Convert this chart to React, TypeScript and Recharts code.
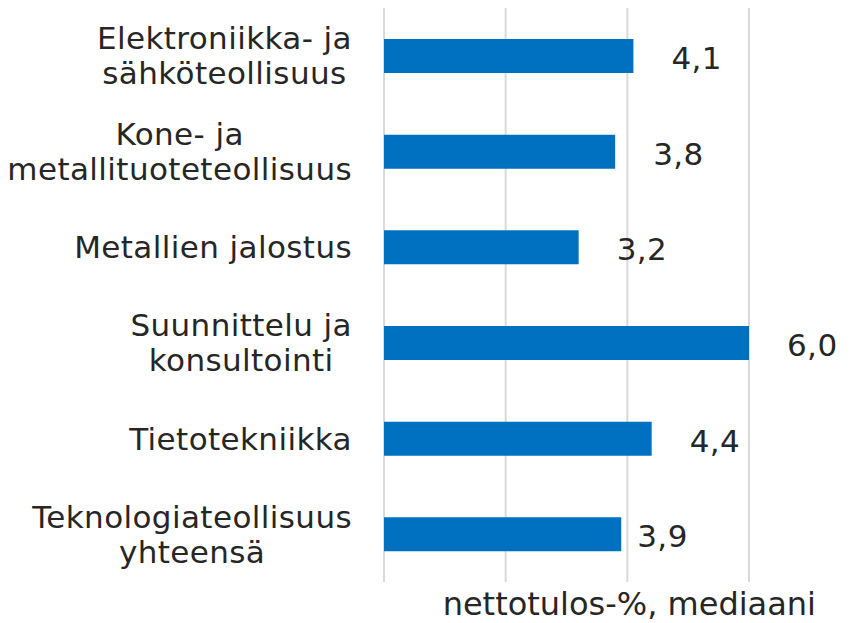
import React from 'react';
import {
  BarChart,
  Bar,
  XAxis,
  YAxis,
  CartesianGrid,
  LabelList,
  Label,
} from 'recharts';

const categories = [
  'Elektroniikka- ja\nsähköteollisuus',
  'Kone- ja\nmetallituoteteollisuus',
  'Metallien jalostus',
  'Suunnittelu ja\nkonsultointi',
  'Tietotekniikka',
  'Teknologiateollisuus\nyhteensä',
];
const medianValues = [4.1, 3.8, 3.2, 6.0, 4.4, 3.9];
const xTicks = [0, 2, 4, 6];
const axisTitle = 'nettotulos-%, mediaani';

const data = categories.map((name, i) => ({ name, value: medianValues[i] }));

const FONT = '"DejaVu Sans", Verdana, sans-serif';
const FONT_SIZE = 31;
const SPACING = 0.4;
const TEXT_COLOR = '#262626';
const BAR_COLOR = '#0070C0';

let ctx: CanvasRenderingContext2D | null = null;
function measure(text: string) {
  if (!ctx) {
    ctx = document.createElement('canvas').getContext('2d');
  }
  if (!ctx) return text.length * FONT_SIZE * 0.6;
  ctx.font = `${FONT_SIZE}px ${FONT}`;
  return ctx.measureText(text).width + text.length * SPACING;
}

// multi-line label: lines centred on each other, block right-aligned
function CategoryTick(props: any) {
  const { x, y, payload } = props;
  const lines = String(payload.value).split('\n');
  const maxW = Math.max(...lines.map(measure));
  const right = x;
  const lineH = 35;
  return (
    <g>
      {lines.map((line, i) => (
        <text
          key={i}
          x={right - maxW / 2 + measure(line) / 2}
          y={y + 11 + (i - (lines.length - 1) / 2) * lineH}
          textAnchor="end"
          fill={TEXT_COLOR}
          fontSize={FONT_SIZE}
          fontFamily={FONT}
          letterSpacing={SPACING}
        >
          {line}
        </text>
      ))}
    </g>
  );
}

function ValueLabel(props: any) {
  const { x, y, width, height, value, index } = props;
  // last label sits closer to its bar in the original
  const gap = index === medianValues.length - 1 ? 16 : 38;
  return (
    <text
      x={x + width + gap}
      y={y + height / 2 + 13}
      fill={TEXT_COLOR}
      fontSize={FONT_SIZE}
      fontFamily={FONT}
      letterSpacing={SPACING}
    >
      {Number(value).toFixed(1).replace('.', ',')}
    </text>
  );
}

function AxisTitle(props: any) {
  const { viewBox } = props;
  return (
    <text
      x={viewBox.x + viewBox.width + 67}
      y={viewBox.y + 33}
      textAnchor="end"
      fill={TEXT_COLOR}
      fontSize={32}
      fontFamily={FONT}
    >
      {axisTitle}
    </text>
  );
}

const EmptyTick = () => <g />;

export default function App() {
  return (
    <div style={{ width: 858, height: 623, background: '#fff' }}>
      <style>{'body { margin: 0; }'}</style>
      <BarChart
        width={858}
        height={623}
        data={data}
        layout="vertical"
        margin={{ top: 8, right: 109, bottom: 0, left: 0 }}
      >
        <CartesianGrid
          horizontal={false}
          stroke="#d9d9d9"
          strokeWidth={2}
        />
        <XAxis
          type="number"
          domain={[0, 6]}
          ticks={xTicks}
          tick={<EmptyTick />}
          axisLine={false}
          tickLine={false}
          height={41}
        >
          <Label content={<AxisTitle />} />
        </XAxis>
        <YAxis
          type="category"
          dataKey="name"
          width={384}
          axisLine={false}
          tickLine={false}
          tickSize={0}
          tickMargin={32}
          interval={0}
          tick={<CategoryTick />}
        />
        <Bar
          dataKey="value"
          fill={BAR_COLOR}
          barSize={34}
          isAnimationActive={false}
        >
          <LabelList dataKey="value" content={<ValueLabel />} />
        </Bar>
      </BarChart>
    </div>
  );
}
